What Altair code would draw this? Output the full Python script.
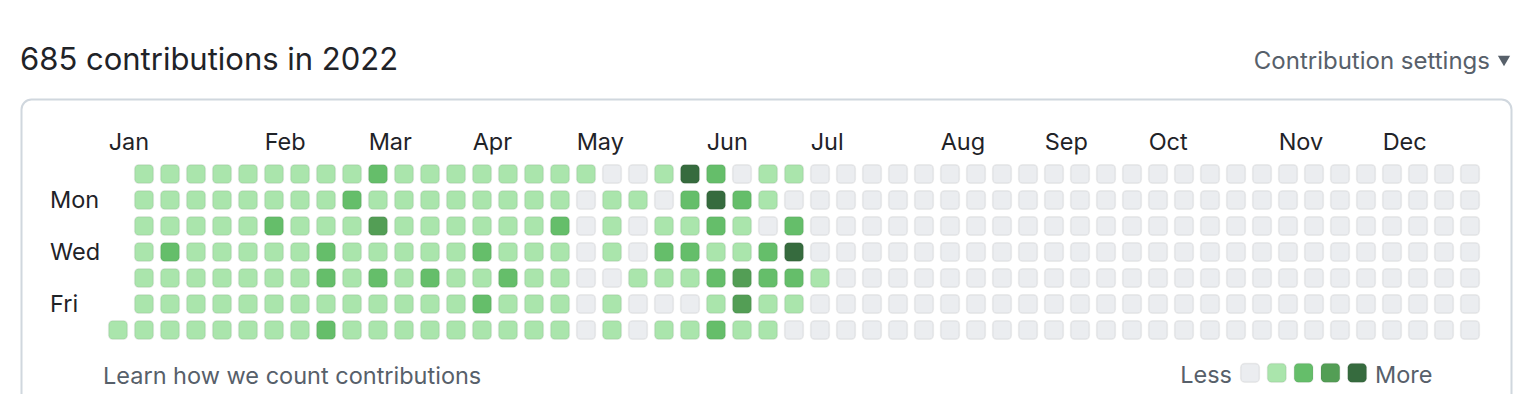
import altair as alt
import pandas as pd

# ---- data (week column 0..52, weekday row Sun..Sat) ----
weekdays = ["Sun", "Mon", "Tue", "Wed", "Thu", "Fri", "Sat"]
sun = [None, 1, 1, 1, 1, 1, 1, 1, 1, 1, 2, 1, 1, 1, 1, 1, 1, 1, 1, 0, 0, 1, 4, 2, 0, 1, 1, 0,
       0, 0, 0, 0, 0, 0, 0, 0, 0, 0, 0, 0, 0, 0, 0, 0, 0, 0, 0, 0, 0, 0, 0, 0, 0]
mon = [None, 1, 1, 1, 1, 1, 1, 1, 1, 2, 1, 1, 1, 1, 1, 1, 1, 1, 0, 1, 1, 0, 2, 4, 2, 1, 0, 0,
       0, 0, 0, 0, 0, 0, 0, 0, 0, 0, 0, 0, 0, 0, 0, 0, 0, 0, 0, 0, 0, 0, 0, 0, 0]
tue = [None, 1, 1, 1, 1, 1, 2, 1, 1, 1, 3, 1, 1, 1, 1, 1, 1, 2, 0, 1, 0, 1, 1, 2, 1, 0, 2, 0,
       0, 0, 0, 0, 0, 0, 0, 0, 0, 0, 0, 0, 0, 0, 0, 0, 0, 0, 0, 0, 0, 0, 0, 0, 0]
wed = [None, 1, 2, 1, 1, 1, 1, 1, 2, 1, 1, 1, 1, 1, 2, 1, 1, 1, 0, 1, 0, 2, 2, 1, 1, 2, 4, 0,
       0, 0, 0, 0, 0, 0, 0, 0, 0, 0, 0, 0, 0, 0, 0, 0, 0, 0, 0, 0, 0, 0, 0, 0, 0]
thu = [None, 1, 1, 1, 1, 1, 1, 1, 2, 1, 2, 1, 2, 1, 1, 2, 1, 1, 0, 0, 1, 1, 1, 2, 3, 2, 2, 1,
       0, 0, 0, 0, 0, 0, 0, 0, 0, 0, 0, 0, 0, 0, 0, 0, 0, 0, 0, 0, 0, 0, 0, 0, 0]
fri = [None, 1, 1, 1, 1, 1, 1, 1, 1, 1, 1, 1, 1, 1, 2, 1, 1, 1, 0, 1, 0, 0, 0, 1, 3, 1, 1, 0,
       0, 0, 0, 0, 0, 0, 0, 0, 0, 0, 0, 0, 0, 0, 0, 0, 0, 0, 0, 0, 0, 0, 0, 0, 0]
sat = [1, 1, 1, 1, 1, 1, 1, 1, 2, 1, 1, 1, 1, 1, 1, 1, 1, 1, 0, 1, 0, 1, 1, 2, 1, 1, 0, 0,
       0, 0, 0, 0, 0, 0, 0, 0, 0, 0, 0, 0, 0, 0, 0, 0, 0, 0, 0, 0, 0, 0, 0, 0, 0]

month_names = ["Jan", "Feb", "Mar", "Apr", "May", "Jun", "Jul", "Aug", "Sep", "Oct", "Nov", "Dec"]
month_weeks = [0, 6, 10, 14, 18, 23, 27, 32, 36, 40, 45, 49]
day_labels = ["Mon", "Wed", "Fri"]
day_rows = [1, 3, 5]
legend_levels = [0, 1, 2, 3, 4]
level_colors = ["#ebedf0", "#aae5ac", "#65be6a", "#539e55", "#366b3e"]

rows = [sun, mon, tue, wed, thu, fri, sat]
records = []
for r, vals in enumerate(rows):
    for c, v in enumerate(vals):
        if v is not None:
            records.append({"week": c, "day": r, "weekday": weekdays[r], "level": v})
cells_df = pd.DataFrame(records)
months_df = pd.DataFrame({"month": month_names, "week": month_weeks})
days_df = pd.DataFrame({"label": day_labels, "day": day_rows})
legend_df = pd.DataFrame({"level": legend_levels})
one = pd.DataFrame({"k": [0]})

W, H = 1518, 386
HALF = 0.36
FONT = "Inter"
DARK = "#1f2328"
GRAY = "#57606a"
LBL = 23.5

xs = alt.Scale(domain=[0, 52], range=[110, 1462], nice=False, zero=False)
ys = alt.Scale(domain=[0, 6], range=[166, 322], nice=False, zero=False)
cs = alt.Scale(domain=legend_levels, range=level_colors)

box = alt.Chart(one).mark_rect(
    fill="white", stroke="#d0d7de", strokeWidth=2, cornerRadius=10
).encode(x=alt.value(13.5), x2=alt.value(1503.5), y=alt.value(91.5), y2=alt.value(440))

title = alt.Chart(one).mark_text(
    text="685 contributions in 2022", font=FONT, fontSize=31, color=DARK,
    align="left", baseline="alphabetic"
).encode(x=alt.value(12), y=alt.value(62))

settings = alt.Chart(one).mark_text(
    text="Contribution settings", font=FONT, fontSize=24, color=GRAY,
    align="right", baseline="alphabetic"
).encode(x=alt.value(1482), y=alt.value(61))

caret = alt.Chart(one).mark_point(
    shape="triangle-down", filled=True, size=150, color=GRAY, opacity=1
).encode(x=alt.value(1496), y=alt.value(53))

cells = alt.Chart(cells_df).transform_calculate(
    x0=f"datum.week - {HALF}", x1=f"datum.week + {HALF}",
    y0=f"datum.day - {HALF}", y1=f"datum.day + {HALF}"
).mark_rect(
    cornerRadius=4, stroke="#1b1f23", strokeOpacity=0.07, strokeWidth=1.5
).encode(
    x=alt.X("x0:Q", scale=xs, axis=None), x2="x1:Q",
    y=alt.Y("y0:Q", scale=ys, axis=None), y2="y1:Q",
    color=alt.Color("level:O", scale=cs, legend=None),
    tooltip=["weekday:N", "week:Q", "level:O"],
)

months = alt.Chart(months_df).transform_calculate(
    mx=f"datum.week - {HALF}"
).mark_text(
    font=FONT, fontSize=LBL, color=DARK, align="left", baseline="alphabetic"
).encode(
    x=alt.X("mx:Q", scale=xs, axis=None), y=alt.value(142), text="month:N"
)

days = alt.Chart(days_df).mark_text(
    font=FONT, fontSize=LBL, color=DARK, align="left", baseline="middle", dy=1
).encode(
    x=alt.value(42), y=alt.Y("day:Q", scale=ys, axis=None), text="label:N"
)

learn = alt.Chart(one).mark_text(
    text="Learn how we count contributions", font=FONT, fontSize=LBL, color=GRAY,
    align="left", baseline="middle"
).encode(x=alt.value(95), y=alt.value(368.5))

legend_cells = alt.Chart(legend_df).transform_calculate(
    x0=f"43.54 + datum.level * 1.03 - {HALF}", x1=f"43.54 + datum.level * 1.03 + {HALF}",
    y0=f"7.65 - {HALF}", y1=f"7.65 + {HALF}"
).mark_rect(
    cornerRadius=4, stroke="#1b1f23", strokeOpacity=0.07, strokeWidth=1.5
).encode(
    x=alt.X("x0:Q", scale=xs, axis=None), x2="x1:Q",
    y=alt.Y("y0:Q", scale=ys, axis=None), y2="y1:Q",
    color=alt.Color("level:O", scale=cs, legend=None),
)

less = alt.Chart(one).mark_text(
    text="Less", font=FONT, fontSize=LBL, color=GRAY, align="right", baseline="middle"
).encode(x=alt.value(1224), y=alt.value(368))

more = alt.Chart(one).mark_text(
    text="More", font=FONT, fontSize=LBL, color=GRAY, align="left", baseline="middle"
).encode(x=alt.value(1367), y=alt.value(368))

chart = alt.layer(
    box, title, settings, caret, cells, months, days, learn, legend_cells, less, more
).properties(
    width=W, height=H, padding=0, autosize=alt.AutoSizeParams(type="none"), background="white"
).configure_view(strokeWidth=0)

chart.save("out.html", embed_options={"renderer": "svg", "actions": False})
